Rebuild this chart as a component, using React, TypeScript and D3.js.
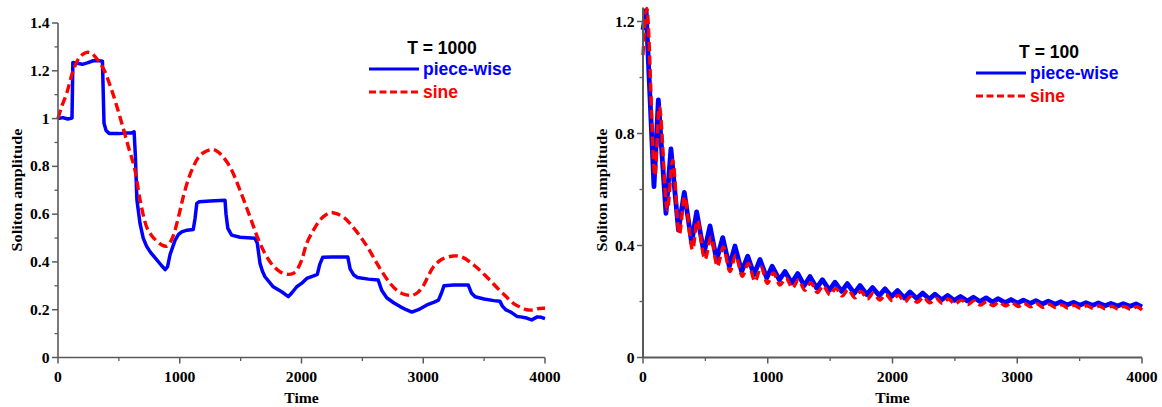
import React from "react";
import * as d3 from "d3";

// ---------- DATA ----------
const xTicks = [0, 1000, 2000, 3000, 4000];
const xMinorTicks = [500, 1500, 2500, 3500];
const leftYTicks = [0, 0.2, 0.4, 0.6, 0.8, 1, 1.2, 1.4];
const leftYMinor = [0.1, 0.3, 0.5, 0.7, 0.9, 1.1, 1.3];
const rightYTicks = [0, 0.4, 0.8, 1.2];
const rightYMinor = [0.2, 0.6, 1.0];

const seriesNames = ["piece-wise", "sine"];
const panelTitles = ["T = 1000", "T = 100"];

// T = 1000, piece-wise modulation
const pieceWise1000: [number, number][] = [
  [0, 1.0], [40, 1.004], [80, 0.998], [115, 1.002], [122, 1.235], [150, 1.232], [200, 1.227],
  [240, 1.233], [290, 1.242], [340, 1.242], [365, 1.24], [378, 0.98], [395, 0.95], [420, 0.938],
  [500, 0.937], [560, 0.94], [605, 0.94], [625, 0.945], [635, 0.85], [648, 0.66], [674, 0.56],
  [700, 0.5], [728, 0.465], [760, 0.44], [810, 0.41], [850, 0.385], [880, 0.368], [900, 0.38],
  [920, 0.43], [961, 0.49], [990, 0.515], [1016, 0.526], [1060, 0.533], [1111, 0.536],
  [1125, 0.58], [1140, 0.645], [1160, 0.652], [1250, 0.655], [1372, 0.658], [1380, 0.6],
  [1395, 0.54], [1426, 0.512], [1495, 0.503], [1618, 0.499], [1637, 0.478], [1659, 0.394],
  [1680, 0.36], [1700, 0.338], [1768, 0.296], [1837, 0.275], [1892, 0.255], [1920, 0.27],
  [1961, 0.296], [2000, 0.31], [2043, 0.331], [2100, 0.342], [2130, 0.348], [2150, 0.39],
  [2175, 0.42], [2250, 0.421], [2380, 0.421], [2400, 0.37], [2430, 0.345], [2460, 0.335],
  [2550, 0.328], [2630, 0.324], [2660, 0.28], [2700, 0.25], [2760, 0.228], [2810, 0.213],
  [2860, 0.2], [2906, 0.19], [2960, 0.2], [3030, 0.22], [3090, 0.232], [3125, 0.24],
  [3150, 0.27], [3170, 0.3], [3250, 0.303], [3370, 0.303], [3395, 0.27], [3426, 0.254],
  [3500, 0.245], [3580, 0.238], [3630, 0.235], [3650, 0.215], [3680, 0.199], [3720, 0.19],
  [3770, 0.172], [3800, 0.17], [3850, 0.165], [3890, 0.157], [3936, 0.17], [3970, 0.168],
  [4000, 0.163],
];

// T = 1000, sine modulation
const sine1000: [number, number][] = [
  [0, 1.0], [30, 1.05], [71, 1.105], [126, 1.203], [181, 1.259], [236, 1.277], [270, 1.275],
  [304, 1.259], [372, 1.21], [441, 1.119], [509, 1.007], [578, 0.882], [632, 0.785],
  [674, 0.66], [728, 0.547], [770, 0.51], [810, 0.488], [850, 0.472], [893, 0.466],
  [930, 0.49], [961, 0.533], [1000, 0.61], [1029, 0.673], [1070, 0.745], [1111, 0.798],
  [1150, 0.835], [1194, 0.857], [1262, 0.871], [1300, 0.865], [1344, 0.847], [1385, 0.82],
  [1426, 0.785], [1495, 0.7], [1577, 0.589], [1659, 0.478], [1741, 0.401], [1823, 0.359],
  [1892, 0.348], [1930, 0.352], [1961, 0.366], [2000, 0.405], [2043, 0.478], [2098, 0.533],
  [2160, 0.58], [2235, 0.606], [2280, 0.603], [2350, 0.585], [2440, 0.535], [2540, 0.464],
  [2630, 0.385], [2728, 0.31], [2800, 0.275], [2860, 0.262], [2906, 0.26], [2950, 0.27],
  [3000, 0.3], [3040, 0.34], [3084, 0.38], [3150, 0.41], [3250, 0.425], [3320, 0.42],
  [3420, 0.385], [3520, 0.338], [3620, 0.285], [3680, 0.255], [3740, 0.227], [3800, 0.21],
  [3850, 0.2], [3905, 0.199], [3950, 0.205], [4000, 0.206],
];

// T = 100, piece-wise modulation
const pieceWise100: [number, number][] = [
  [0, 1.17], [25, 1.24], [88, 0.61], [123, 0.92], [184, 0.515], [224, 0.745], [284, 0.455],
  [331, 0.59], [390, 0.41], [430, 0.52], [489, 0.372], [537, 0.47], [590, 0.348], [639, 0.428],
  [692, 0.325], [737, 0.398], [791, 0.307], [839, 0.362], [890, 0.296], [938, 0.35],
  [992, 0.284], [1035, 0.326], [1093, 0.277], [1138, 0.307], [1192, 0.266], [1240, 0.3],
  [1293, 0.257], [1339, 0.289], [1392, 0.248], [1438, 0.278], [1494, 0.24], [1539, 0.269],
  [1592, 0.236], [1638, 0.264], [1694, 0.229], [1740, 0.257], [1793, 0.225], [1840, 0.25],
  [1894, 0.221], [1940, 0.245], [1993, 0.218], [2041, 0.239], [2094, 0.213], [2140, 0.234],
  [2194, 0.211], [2242, 0.23], [2295, 0.209], [2341, 0.226], [2394, 0.206], [2442, 0.222],
  [2495, 0.204], [2545, 0.218], [2600, 0.202], [2648, 0.215], [2701, 0.2], [2750, 0.213],
  [2800, 0.198], [2848, 0.21], [2902, 0.196], [2950, 0.207], [3003, 0.194], [3049, 0.205],
  [3102, 0.193], [3150, 0.203], [3201, 0.191], [3249, 0.201], [3303, 0.19], [3351, 0.199],
  [3401, 0.188], [3449, 0.197], [3503, 0.187], [3551, 0.196], [3605, 0.186], [3650, 0.195],
  [3703, 0.185], [3751, 0.193], [3805, 0.184], [3850, 0.192], [3904, 0.183], [3952, 0.191],
  [4000, 0.181],
];

// T = 100, sine modulation
const sine100: [number, number][] = [
  [0, 1.08], [30, 1.247], [96, 0.65], [131, 0.895], [195, 0.527], [238, 0.705], [291, 0.44],
  [333, 0.574], [398, 0.385], [435, 0.49], [497, 0.35], [545, 0.43], [596, 0.325],
  [644, 0.395], [697, 0.307], [743, 0.366], [796, 0.29], [844, 0.336], [898, 0.272],
  [946, 0.324], [997, 0.265], [1045, 0.302], [1098, 0.259], [1145, 0.284], [1198, 0.249],
  [1246, 0.277], [1298, 0.24], [1344, 0.267], [1398, 0.232], [1444, 0.256], [1499, 0.224],
  [1545, 0.247], [1598, 0.22], [1644, 0.243], [1699, 0.213], [1746, 0.236], [1799, 0.209],
  [1846, 0.23], [1899, 0.205], [1946, 0.226], [1999, 0.203], [2046, 0.222], [2099, 0.199],
  [2146, 0.218], [2199, 0.197], [2248, 0.215], [2300, 0.195], [2347, 0.212], [2399, 0.193],
  [2448, 0.209], [2500, 0.191], [2551, 0.205], [2605, 0.189], [2654, 0.203], [2706, 0.187],
  [2756, 0.2], [2805, 0.185], [2854, 0.198], [2907, 0.184], [2956, 0.196], [3008, 0.182],
  [3055, 0.194], [3107, 0.181], [3156, 0.192], [3206, 0.179], [3255, 0.19], [3308, 0.178],
  [3357, 0.188], [3406, 0.177], [3455, 0.186], [3508, 0.176], [3557, 0.185], [3610, 0.175],
  [3656, 0.184], [3708, 0.174], [3757, 0.183], [3810, 0.173], [3856, 0.182], [3909, 0.172],
  [3958, 0.181], [4000, 0.17],
];

// ---------- STYLE ----------
const BLUE = "#0000ff";
const RED = "#ff0000";
const AXIS = "#5a5a5a";
const SERIF = "'Liberation Serif', 'Times New Roman', serif";
const SANS = "'Liberation Sans', Arial, sans-serif";

type PanelProps = {
  x0: number; x1: number; yTop: number; yBottom: number; yMax: number;
  yTicks: number[]; yMinor: number[];
  blue: [number, number][]; red: [number, number][];
  title: string; legendX: number; legendY: number;
  blueWidth: number; redWidth: number; redCurve: any;
  axisWidth: number;
};

const fmt = (d: number) => String(+d.toFixed(1));

function Panel(p: PanelProps) {
  const x = d3.scaleLinear().domain([0, 4000]).range([p.x0, p.x1]);
  const y = d3.scaleLinear().domain([0, p.yMax]).range([p.yBottom, p.yTop]);
  const lineBlue = d3.line<[number, number]>().x((d) => x(d[0])).y((d) => y(d[1])).curve(d3.curveLinear);
  const lineRed = d3.line<[number, number]>().x((d) => x(d[0])).y((d) => y(d[1])).curve(p.redCurve);
  const base = y(0);
  const left = x(0);
  const lx = p.legendX;
  const ly = p.legendY;
  const fs = 14.5;
  const sx = 1.08;
  return (
    <g>
      {/* series */}
      <path d={lineBlue(p.blue) || ""} fill="none" stroke={BLUE} strokeWidth={p.blueWidth} strokeLinejoin="round" />
      <path d={lineRed(p.red) || ""} fill="none" stroke={RED} strokeWidth={p.redWidth} strokeDasharray="9,4.5" />
      {/* axes */}
      <line x1={left} x2={x(4000)} y1={base} y2={base} stroke={AXIS} strokeWidth={p.axisWidth} />
      <line x1={left} x2={left} y1={p.yTop} y2={base} stroke={AXIS} strokeWidth={p.axisWidth} />
      {xTicks.map((t) => (
        <g key={"xt" + t}>
          <line x1={x(t)} x2={x(t)} y1={base} y2={base + 6} stroke={AXIS} strokeWidth={1.5} />
          <text transform={`translate(${x(t)},${base + 24.5}) scale(${sx},1)`} textAnchor="middle"
            fontFamily={SERIF} fontWeight="bold" fontSize={fs} fill="#000">{t}</text>
        </g>
      ))}
      {xMinorTicks.map((t) => (
        <line key={"xm" + t} x1={x(t)} x2={x(t)} y1={base} y2={base + 3.5} stroke={AXIS} strokeWidth={1.3} />
      ))}
      {p.yTicks.map((t) => (
        <g key={"yt" + t}>
          <line x1={left - 6} x2={left} y1={y(t)} y2={y(t)} stroke={AXIS} strokeWidth={1.5} />
          <text transform={`translate(${left - 8.5},${y(t) + 5}) scale(${sx},1)`} textAnchor="end"
            fontFamily={SERIF} fontWeight="bold" fontSize={fs} fill="#000">{fmt(t)}</text>
        </g>
      ))}
      {p.yMinor.map((t) => (
        <line key={"ym" + t} x1={left - 3.5} x2={left} y1={y(t)} y2={y(t)} stroke={AXIS} strokeWidth={1.3} />
      ))}
      {/* axis titles */}
      <text transform={`translate(${(p.x0 + p.x1) / 2},${base + 45}) scale(${sx},1)`} textAnchor="middle"
        fontFamily={SERIF} fontWeight="bold" fontSize={fs} fill="#000">Time</text>
      <text transform={`translate(${left - 36},190) rotate(-90) scale(1.08,1)`} textAnchor="middle"
        fontFamily={SERIF} fontWeight="bold" fontSize={15} fill="#000">Soliton amplitude</text>
      {/* legend */}
      <text x={lx + 73} y={ly} textAnchor="middle" fontFamily={SANS} fontWeight="bold" fontSize={17.5} fill="#000">{p.title}</text>
      <line x1={lx} x2={lx + 50} y1={ly + 15} y2={ly + 15} stroke={BLUE} strokeWidth={3} />
      <text x={lx + 54} y={ly + 20.5} fontFamily={SANS} fontWeight="bold" fontSize={17.5} fill={BLUE}>{seriesNames[0]}</text>
      <line x1={lx} x2={lx + 50} y1={ly + 38} y2={ly + 38} stroke={RED} strokeWidth={3} strokeDasharray="7,3.5" />
      <text x={lx + 54} y={ly + 44} fontFamily={SANS} fontWeight="bold" fontSize={17.5} fill={RED}>{seriesNames[1]}</text>
    </g>
  );
}

export default function App() {
  return (
    <svg width={1162} height={407} style={{ position: "absolute", left: 0, top: 0, background: "#fff" }}>
      <rect x={0} y={0} width={1162} height={407} fill="#fff" />
      <Panel x0={58} x1={545} yTop={23} yBottom={357.5} yMax={1.4}
        yTicks={leftYTicks} yMinor={leftYMinor} blue={pieceWise1000} red={sine1000}
        title={panelTitles[0]} legendX={369} legendY={54}
        blueWidth={3.5} redWidth={3.4} redCurve={d3.curveCatmullRom} axisWidth={1.6} />
      <Panel x0={643} x1={1142} yTop={7.5} yBottom={357.5} yMax={1.25}
        yTicks={rightYTicks} yMinor={rightYMinor} blue={pieceWise100} red={sine100}
        title={panelTitles[1]} legendX={976} legendY={58}
        blueWidth={4.8} redWidth={3.4} redCurve={d3.curveMonotoneX} axisWidth={2} />
    </svg>
  );
}
